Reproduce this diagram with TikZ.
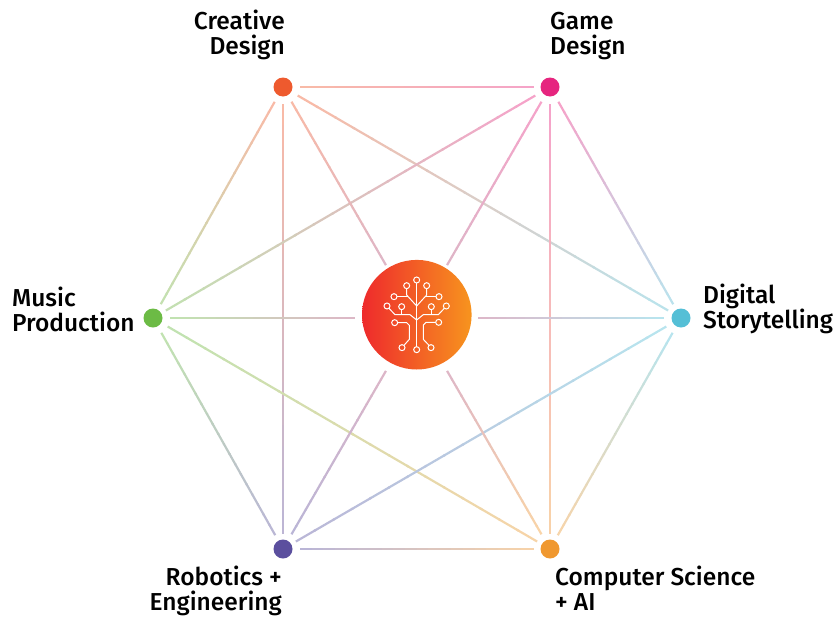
\documentclass[tikz,border=0pt]{standalone}
\usepackage{fontspec}
\setmainfont{Fira Sans Medium}
\usetikzlibrary{calc,backgrounds}
\definecolor{colcreative}{HTML}{EE5A2E}
\definecolor{colgame}{HTML}{E6257F}
\definecolor{colmusic}{HTML}{6CBB45}
\definecolor{coldigital}{HTML}{55BFD6}
\definecolor{colrobotics}{HTML}{5B4F9E}
\definecolor{colcomputer}{HTML}{F0982F}
\definecolor{coltree}{HTML}{B0507A}
\definecolor{discleft}{HTML}{EE2A2C}
\definecolor{discright}{HTML}{F7941E}
\tikzset{
  dot/.style={circle, minimum size=19pt, inner sep=0pt, fill=#1},
  lbl/.style={font=\fontsize{24.5}{25}\selectfont, inner sep=0pt},
  icon/.style={draw=white, line width=1pt, line join=round},
  pin/.style={draw=white, line width=1pt}
}
% one pale line, colour running from the first name to the second
\newcommand{\gradlink}[4]{
  \coordinate (s) at ($(#1)!17pt!(#2)$);
  \coordinate (e) at ($(#2)!#3!(#1)$);
  \foreach \i in {0,...,19}{
    \pgfmathsetmacro{\ta}{\i/20}
    \pgfmathsetmacro{\tb}{(\i+1.1)/20}
    \pgfmathtruncatemacro{\p}{100-5*\i}
    \draw[line width=2.2pt, col#1!\p!#4!42!white] ($(s)!\ta!(e)$) -- ($(s)!\tb!(e)$);
  }
}
\begin{document}
\begin{tikzpicture}[x=1pt, y=-1pt]
  \useasboundingbox (0,0) rectangle (835,616);
  \node[dot=colcreative](creative) at (283,87){};
  \node[dot=colgame](game) at (550,87){};
  \node[dot=colmusic](music) at (153,318){};
  \node[dot=coldigital](digital) at (681,318){};
  \node[dot=colrobotics](robotics) at (283,549){};
  \node[dot=colcomputer](computer) at (550,549){};
  \node[circle, minimum size=109.6pt, inner sep=0pt, left color=discleft, right color=discright](tree) at (416.8,314.7){};
  \coordinate (hub) at (416.5,318);

  \node[lbl, align=right, anchor=south east](creativelbl) at (285,60){Creative\\Design};
  \node[lbl, align=left, anchor=south west](gamelbl) at (550,60){Game\\Design};
  \node[lbl, align=left, anchor=west](musiclbl) at (12,309){Music\\Production};
  \node[lbl, align=left, anchor=west](digitallbl) at (703,309){Digital\\Storytelling};
  \node[lbl, align=right, anchor=north east](roboticslbl) at (282,566){Robotics +\\Engineering};
  \node[lbl, align=left, anchor=north west](computerlbl) at (555,566){Computer Science\\+ AI};

  \begin{scope}[on background layer]
    \foreach \a/\b in {creative/game, creative/music, creative/robotics, creative/digital,
        game/digital, game/computer, game/music,
        music/robotics, music/computer,
        digital/robotics, digital/computer, robotics/computer}{
      \gradlink{\a}{\b}{17pt}{col\b}
    }
    \foreach \a in {creative, game, music, digital, robotics, computer}{
      \gradlink{\a}{hub}{62pt}{coltree}
    }
  \end{scope}

  % the tree in the disc, drawn directly
  \begin{scope}[shift={(340,240)}, x=0.3333pt, y=-0.3333pt]
    \draw[icon] (230,129) -- (230,320);
    \draw[icon] (200,146) -- (200,165) -- (230,198) -- (260,165) -- (260,146);
    \draw[icon] (171,170) -- (205,170);
    \draw[icon] (288,170) -- (255,170);
    \draw[icon] (147,205) -- (165,224) -- (210,224) -- (230,240) -- (250,224) -- (295,224) -- (313,205);
    \draw[icon] (185,209) -- (185,224);
    \draw[icon] (274,209) -- (274,224);
    \draw[icon] (173,248) -- (200,248) -- (208,256) -- (208,298) -- (192,316);
    \draw[icon] (287,247) -- (258,247) -- (250,255) -- (250,298) -- (267,316);
    \foreach \x/\y in {230/120, 200/137, 260/137, 162/170, 297/170, 141/198, 185/200, 274/200,
        319/198, 164/248, 296/247, 186/323, 230/329, 273/323}{
      \draw[pin] (\x,\y) circle (3pt);
    }
  \end{scope}
\end{tikzpicture}
\end{document}
